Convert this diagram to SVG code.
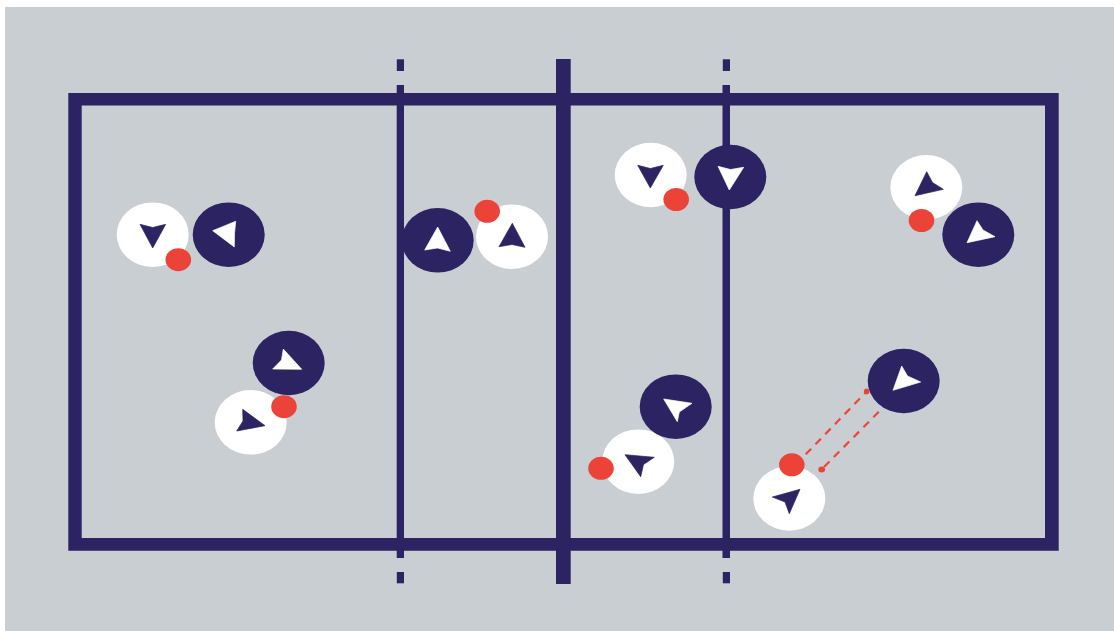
<svg xmlns="http://www.w3.org/2000/svg" width="1114" height="631" viewBox="0 0 1114 631">
<style>
.c{fill:#2c2363}
.p{rx:36px;ry:32.3px}
.w{fill:#fff}
.n{fill:#2c2363}
.aw{fill:#fff;stroke:#fff;stroke-width:.7}
.an{fill:#2c2363;stroke:#2c2363;stroke-width:.7}
.b{fill:#ec4339;rx:12.8px;ry:11.5px}
.l{fill:none;stroke:#ef4439;stroke-width:2.2;stroke-dasharray:7.8 6.2}
.d{fill:#ec4339}
</style>
<rect width="1114" height="631" fill="#fff"/>
<rect x="5" y="7" width="1109" height="624" fill="#c9ced3"/>
<g id="court">
<path class="c" fill-rule="evenodd" d="M68.3 93H1058.7V550.7H68.3ZM81.7 105.5V538H1045V105.5Z"/>
<rect class="c" x="556" y="59" width="14.7" height="525"/>
<rect class="c" x="396.7" y="85" width="7.3" height="473"/>
<rect class="c" x="396.8" y="59.3" width="7.2" height="11.7"/>
<rect class="c" x="396.8" y="572" width="7.2" height="11.3"/>
<rect class="c" x="722.5" y="85" width="7.5" height="473"/>
<rect class="c" x="722.8" y="59.3" width="7.2" height="11.7"/>
<rect class="c" x="722.8" y="572" width="7.2" height="11.3"/>
</g>
<g id="connectors">
<line class="l" x1="805.7" y1="454.3" x2="866.7" y2="391.5"/>
<circle class="d" cx="866.7" cy="391.4" r="2.8"/>
<line class="l" x1="824" y1="467" x2="884" y2="406.5"/>
<ellipse class="d" cx="821.7" cy="469.5" rx="3.4" ry="2.9"/>
</g>
<g id="pair1">
<ellipse class="p w" cx="152.7" cy="234.7"/>
<polygon class="an" points="140,224.3 152.7,227.5 165.7,224.3 152.7,248"/>
<ellipse class="p n" cx="228.7" cy="234.7"/>
<polygon class="aw" points="212.7,230.7 235.7,221.3 234.5,233.5 234.3,247"/>
<ellipse class="b" cx="178.3" cy="259.7"/>
</g>
<g id="pair2">
<ellipse class="p w" cx="250.7" cy="422.3"/>
<polygon class="an" points="242.7,409.3 265,425.7 236.7,431 243,421"/>
<ellipse class="p n" cx="288.7" cy="363"/>
<polygon class="aw" points="283.3,349 301.7,369.3 272.7,369 281.5,360"/>
<ellipse class="b" cx="284" cy="406.7"/>
</g>
<g id="pair3">
<ellipse class="p w" cx="512" cy="236.7"/>
<polygon class="an" points="512.3,223.3 525,247.3 512,244.5 499,246.7"/>
<ellipse class="p n" cx="437.7" cy="240.3"/>
<polygon class="aw" points="437.7,227 450.3,251.3 437.5,248 424.7,250"/>
<ellipse class="b" cx="487.2" cy="211.3"/>
</g>
<g id="pair4">
<ellipse class="p w" cx="650.7" cy="175"/>
<polygon class="an" points="637.7,165.3 650.5,168.5 663.3,165.3 650.3,188"/>
<ellipse class="p n" cx="730.3" cy="177"/>
<polygon class="aw" points="718,166.3 730.5,169.5 743.7,167.3 729.3,190"/>
<ellipse class="b" cx="676.2" cy="199.5"/>
</g>
<g id="pair5">
<ellipse class="p w" cx="926.3" cy="187.3"/>
<polygon class="an" points="926.7,171.7 932.5,182.5 943.3,189.3 915,195.7"/>
<ellipse class="p n" cx="978.3" cy="234.7"/>
<polygon class="aw" points="977,220.7 983,230 995,236.7 967,242.7"/>
<ellipse class="b" cx="921.5" cy="220.5"/>
</g>
<g id="pair6">
<ellipse class="p w" cx="638.2" cy="461.7"/>
<polygon class="an" points="625,454.7 654.3,457.3 643.5,464.5 640.7,476.7"/>
<ellipse class="p n" cx="675.7" cy="406.7"/>
<polygon class="aw" points="663.7,399 692,403.3 679.3,412 677.3,421.7"/>
<ellipse class="b" cx="601" cy="468.3"/>
</g>
<g id="pair7">
<ellipse class="p w" cx="789.3" cy="498.4"/>
<polygon class="an" points="772.3,497 800,489.3 789.3,513.7 785,502"/>
<ellipse class="b" cx="791.8" cy="464.8"/>
</g>
<g id="pair8">
<ellipse class="p n" cx="903.7" cy="381"/>
<polygon class="aw" points="901.7,366 907.5,376 920.7,382 893,390.3"/>
</g>
</svg>
